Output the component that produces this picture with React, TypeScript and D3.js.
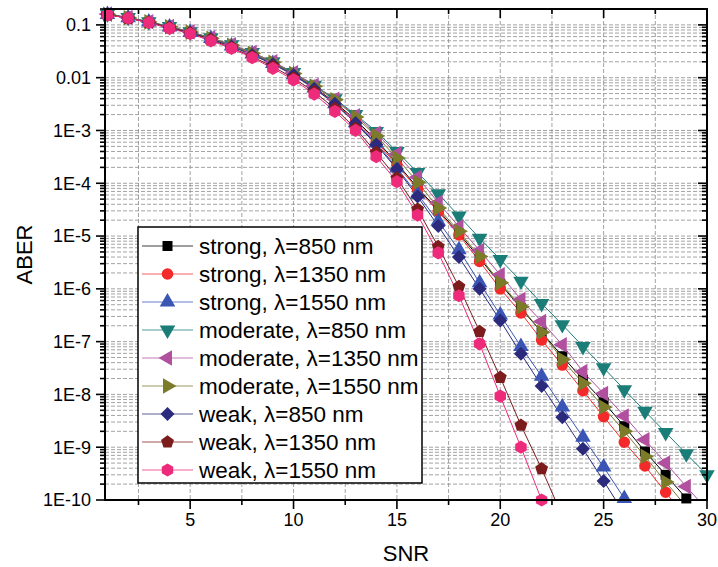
import * as d3 from "d3";

// SNR values (x axis)
const snr = [1, 2, 3, 4, 5, 6, 7, 8, 9, 10, 11, 12, 13, 14, 15, 16, 17, 18, 19, 20, 21, 22, 23, 24, 25, 26, 27, 28, 29, 30];

// ABER per series, index 0 -> SNR = 1
const strong850 = [0.158, 0.136, 0.113, 0.091, 0.072, 0.055, 0.04, 0.028, 0.019, 0.0118, 0.0066, 0.0034, 1.6e-3, 6.6e-4, 2.4e-4, 8.2e-5, 3.1e-5, 1.12e-5, 3.8e-6, 1.25e-6, 4.3e-7, 1.5e-7, 5.3e-8, 1.9e-8, 7.1e-9, 2.5e-9, 8.3e-10, 3.0e-10, 1.07e-10, 3.8e-11];
const strong1350 = [0.158, 0.136, 0.113, 0.091, 0.072, 0.055, 0.04, 0.028, 0.0188, 0.0116, 0.0065, 0.0033, 1.5e-3, 6.2e-4, 2.2e-4, 7.8e-5, 2.9e-5, 1.05e-5, 3.3e-6, 1.0e-6, 3.5e-7, 1.07e-7, 3.6e-8, 1.18e-8, 3.8e-9, 1.24e-9, 4.4e-10, 1.4e-10, 4.5e-11];
const strong1550 = [0.158, 0.136, 0.113, 0.091, 0.072, 0.055, 0.04, 0.028, 0.0186, 0.0114, 0.0064, 0.0032, 1.4e-3, 5.8e-4, 1.95e-4, 6.2e-5, 1.9e-5, 5.5e-6, 1.3e-6, 3.2e-7, 8.1e-8, 2.2e-8, 5.8e-9, 1.55e-9, 4.2e-10, 1.07e-10, 2.8e-11];
const moderate850 = [0.16, 0.138, 0.115, 0.093, 0.074, 0.057, 0.042, 0.03, 0.02, 0.0125, 0.0072, 0.004, 2.0e-3, 9.6e-4, 4.0e-4, 1.6e-4, 6.3e-5, 2.4e-5, 9.1e-6, 3.6e-6, 1.4e-6, 5.3e-7, 2.1e-7, 8.1e-8, 3.2e-8, 1.23e-8, 4.8e-9, 1.9e-9, 7.5e-10, 3.0e-10];
const moderate1350 = [0.16, 0.138, 0.115, 0.093, 0.074, 0.057, 0.042, 0.03, 0.02, 0.0124, 0.0071, 0.0039, 1.9e-3, 8.8e-4, 3.6e-4, 1.3e-4, 4.3e-5, 1.5e-5, 5.3e-6, 1.85e-6, 6.3e-7, 2.4e-7, 8.7e-8, 2.7e-8, 1.04e-8, 3.9e-9, 1.38e-9, 5.0e-10, 1.8e-10, 6.5e-11];
const moderate1550 = [0.159, 0.137, 0.114, 0.092, 0.073, 0.056, 0.041, 0.029, 0.0195, 0.012, 0.0069, 0.0038, 1.8e-3, 7.9e-4, 3.0e-4, 1.05e-4, 3.4e-5, 1.23e-5, 4.1e-6, 1.3e-6, 4.6e-7, 1.5e-7, 4.6e-8, 1.63e-8, 5.7e-9, 2.0e-9, 6.7e-10, 2.2e-10, 7.5e-11];
const weak850 = [0.157, 0.135, 0.112, 0.09, 0.071, 0.054, 0.039, 0.027, 0.018, 0.0112, 0.0062, 0.0032, 1.38e-3, 5.4e-4, 1.86e-4, 5.6e-5, 1.55e-5, 4.0e-6, 1.0e-6, 2.5e-7, 5.9e-8, 1.45e-8, 3.7e-9, 9.3e-10, 2.3e-10, 5.5e-11];
const weak1350 = [0.156, 0.134, 0.111, 0.088, 0.07, 0.052, 0.037, 0.025, 0.0162, 0.0098, 0.0054, 0.0026, 1.1e-3, 3.8e-4, 1.25e-4, 3.2e-5, 6.3e-6, 1.1e-6, 1.55e-7, 2.1e-8, 2.6e-9, 3.9e-10, 5e-11];
const weak1550 = [0.155, 0.134, 0.11, 0.086, 0.068, 0.05, 0.036, 0.024, 0.015, 0.0091, 0.0049, 0.0023, 1.0e-3, 3.2e-4, 1.07e-4, 2.5e-5, 4.8e-6, 7.4e-7, 9.1e-8, 9.3e-9, 1.0e-9, 1.0e-10, 8e-12];

const seriesNames = [
  "strong, λ=850 nm",
  "strong, λ=1350 nm",
  "strong, λ=1550 nm",
  "moderate, λ=850 nm",
  "moderate, λ=1350 nm",
  "moderate, λ=1550 nm",
  "weak, λ=850 nm",
  "weak, λ=1350 nm",
  "weak, λ=1550 nm",
];
const seriesValues = [strong850, strong1350, strong1550, moderate850, moderate1350, moderate1550, weak850, weak1350, weak1550];
const seriesColors = ["#000000", "#f42a2a", "#3a55b4", "#1b7d78", "#b0509f", "#7b7b2a", "#2b2a7c", "#7c1c1c", "#ee2a7b"];
const seriesMarkers = ["square", "circle", "up", "down", "left", "right", "diamond", "pentagon", "hexagon"];

const xTicks = [5, 10, 15, 20, 25, 30];
const yTickLabels = ["0.1", "0.01", "1E-3", "1E-4", "1E-5", "1E-6", "1E-7", "1E-8", "1E-9", "1E-10"];

const W = 718;
const H = 567;
const margin = { top: 9, right: 11, bottom: 67, left: 105 };
const FONT = "'Liberation Sans', Arial, sans-serif";

const polygon = (n: number, r: number, start: number) => {
  const pts = d3.range(n).map((i) => {
    const a = start + (i * 2 * Math.PI) / n;
    return [r * Math.cos(a), r * Math.sin(a)];
  });
  return "M" + pts.map((p) => p.join(",")).join("L") + "Z";
};

const markerPath = (kind: string) => {
  const tri = d3.symbol(d3.symbolTriangle, 105)();
  switch (kind) {
    case "square":
      return { d: d3.symbol(d3.symbolSquare, 100)(), rot: 0 };
    case "circle":
      return { d: d3.symbol(d3.symbolCircle, 105)(), rot: 0 };
    case "up":
      return { d: tri, rot: 0 };
    case "down":
      return { d: tri, rot: 180 };
    case "left":
      return { d: tri, rot: -90 };
    case "right":
      return { d: tri, rot: 90 };
    case "diamond":
      return { d: polygon(4, 7, -Math.PI / 2), rot: 0 };
    case "pentagon":
      return { d: polygon(5, 6.8, -Math.PI / 2), rot: 0 };
    default:
      return { d: polygon(6, 6.6, -Math.PI / 2), rot: 0 };
  }
};

export default function App() {
  const x0 = margin.left;
  const x1 = W - margin.right;
  const y0 = H - margin.bottom;
  const y1 = margin.top;

  const x = d3.scaleLinear().domain([0.88, 30]).range([x0, x1]);
  const y = d3.scaleLog().domain([1e-10, 0.2]).range([y0, y1]);

  const majorY = yTickLabels.map((_, i) => Math.pow(10, -1 - i));
  const minorY: number[] = [];
  for (let e = -10; e <= -1; e++) {
    for (let m = 2; m <= 9; m++) {
      const v = m * Math.pow(10, e);
      if (v <= 0.2 + 1e-12) minorY.push(v);
    }
  }
  const minorX = [2.5, 7.5, 12.5, 17.5, 22.5, 27.5];
  const gridX = [...minorX, ...xTicks.filter((t) => t < 30)];

  const line = d3
    .line<number>()
    .x((_, i) => x(snr[i]))
    .y((v) => y(v));

  const legendX = 138;
  const legendY = 227;
  const rowH = 28;

  return (
    <svg width={W} height={H} style={{ position: "absolute", left: 0, top: 0, background: "#fff" }} fontFamily={FONT}>
      <defs>
        <clipPath id="plotClip">
          <rect x={x0} y={y1} width={x1 - x0} height={y0 - y1} />
        </clipPath>
      </defs>

      {/* grid */}
      <g stroke="#8c8c8c" strokeWidth={0.8} strokeDasharray="4,2">
        {[...majorY, ...minorY].map((v, i) => (
          <line key={"gy" + i} x1={x0} x2={x1} y1={y(v)} y2={y(v)} />
        ))}
        {gridX.map((v, i) => (
          <line key={"gx" + i} x1={x(v)} x2={x(v)} y1={y1} y2={y0} />
        ))}
      </g>

      {/* series lines */}
      <g clipPath="url(#plotClip)" fill="none">
        {seriesValues.map((vals, si) => (
          <path key={"l" + si} d={line(vals) || ""} stroke={seriesColors[si]} strokeWidth={1} />
        ))}
      </g>

      {/* markers */}
      {seriesValues.map((vals, si) => {
        const m = markerPath(seriesMarkers[si]);
        return (
          <g key={"m" + si} fill={seriesColors[si]}>
            {vals.map((v, i) =>
              v >= 9e-11 ? (
                <path key={i} d={m.d || ""} transform={`translate(${x(snr[i])},${y(v)}) rotate(${m.rot})`} />
              ) : null
            )}
          </g>
        );
      })}

      {/* frame */}
      <rect x={x0} y={y1} width={x1 - x0} height={y0 - y1} fill="none" stroke="#000" strokeWidth={2} />

      {/* x ticks */}
      <g stroke="#000" strokeWidth={1.6}>
        {xTicks.map((t) => (
          <g key={"xt" + t}>
            <line x1={x(t)} x2={x(t)} y1={y0} y2={y0 + 9} />
            <line x1={x(t)} x2={x(t)} y1={y1} y2={y1 + 9} />
          </g>
        ))}
        {minorX.map((t) => (
          <g key={"xm" + t}>
            <line x1={x(t)} x2={x(t)} y1={y0} y2={y0 + 5} />
            <line x1={x(t)} x2={x(t)} y1={y1} y2={y1 + 5} />
          </g>
        ))}
        {majorY.map((v, i) => (
          <g key={"yt" + i}>
            <line x1={x0 - 9} x2={x0} y1={y(v)} y2={y(v)} />
            <line x1={x1 - 9} x2={x1} y1={y(v)} y2={y(v)} />
          </g>
        ))}
        {minorY.map((v, i) => (
          <g key={"ym" + i}>
            <line x1={x0 - 5} x2={x0} y1={y(v)} y2={y(v)} />
            <line x1={x1 - 5} x2={x1} y1={y(v)} y2={y(v)} />
          </g>
        ))}
      </g>

      {/* tick labels */}
      <g fontSize={18} fill="#000">
        {xTicks.map((t) => (
          <text key={"xl" + t} x={x(t)} y={y0 + 26} textAnchor="middle">
            {t}
          </text>
        ))}
        {majorY.map((v, i) => (
          <text key={"yl" + i} x={x0 - 14} y={y(v)} dy="0.35em" textAnchor="end">
            {yTickLabels[i]}
          </text>
        ))}
      </g>

      {/* axis titles */}
      <text x={(x0 + x1) / 2} y={561} textAnchor="middle" fontSize={22}>
        SNR
      </text>
      <text transform={`translate(32,${(y0 + y1) / 2}) rotate(-90)`} textAnchor="middle" fontSize={22}>
        ABER
      </text>

      {/* legend */}
      <rect x={legendX} y={legendY} width={284} height={256} fill="#fff" stroke="#000" strokeWidth={1.5} />
      {seriesNames.map((name, i) => {
        const m = markerPath(seriesMarkers[i]);
        const ry = legendY + 19 + i * rowH;
        return (
          <g key={"lg" + i}>
            <line x1={legendX + 4} x2={legendX + 55} y1={ry} y2={ry} stroke={seriesColors[i]} strokeWidth={1.2} opacity={0.75} />
            <path d={m.d || ""} fill={seriesColors[i]} transform={`translate(${legendX + 29.5},${ry}) rotate(${m.rot})`} />
            <text x={legendX + 61} y={ry} dy="0.35em" fontSize={22.5} fill="#000">
              {name}
            </text>
          </g>
        );
      })}
    </svg>
  );
}
